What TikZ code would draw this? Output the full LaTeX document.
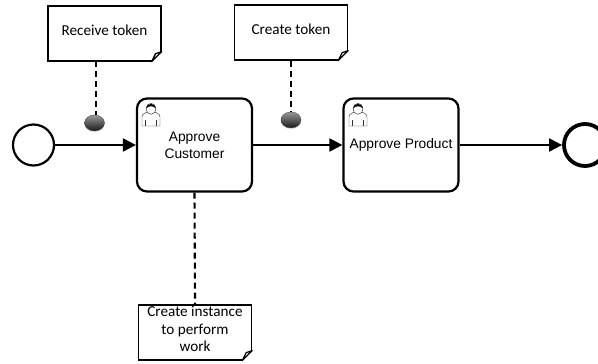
\documentclass[tikz,border=0pt]{standalone}
\usepackage{fontspec}
\setmainfont{Liberation Sans}
\newfontfamily\notefont{Carlito}
\usetikzlibrary{arrows.meta,shadows,shapes.geometric}
\tikzset{
  x=1pt,y=-1pt,
  flow/.style={line width=2.1pt,-{Triangle[length=13pt,width=13pt]}},
  assoc/.style={line width=2.1pt,dash pattern=on 6pt off 4pt},
  taskbox/.style={draw,line width=2.2pt,rounded corners=10pt,minimum width=115pt,minimum height=93pt,inner sep=0pt,align=center,font=\fontsize{13.8pt}{17pt}\selectfont,fill=white},
  notebox/.style={draw,line width=1.3pt,minimum width=113pt,minimum height=55pt,inner sep=0pt},
  notetext/.style={align=center,font=\notefont\fontsize{15.2pt}{17.8pt}\selectfont,inner sep=0pt},
  ball/.style={ellipse,minimum width=20pt,minimum height=16pt,inner sep=0pt,draw=black!70,line width=.4pt,top color=black!40,bottom color=black!90,drop shadow={shadow xshift=0pt,shadow yshift=-1.2pt,opacity=.2}},
}
\newcommand{\dogear}[1]{%
  \fill[white] ([xshift=-10pt,yshift=-.8pt]#1.south east) -- ([yshift=10pt,xshift=.8pt]#1.south east) -- ([xshift=.8pt,yshift=-.8pt]#1.south east) -- cycle;
  \draw[line width=1.3pt,line join=round] ([xshift=-10pt]#1.south east) -- ([yshift=10pt]#1.south east) -- ([xshift=-6pt,yshift=8pt]#1.south east) -- cycle;
}
\newcommand{\usericon}[2]{%
  \begin{scope}[shift={(#1,#2)}]
    \draw[line width=.45pt,draw=black!80,fill=white] (1,23) -- (1,14) .. controls (1,10) and (6,10) .. (7,8) -- (13,8) .. controls (14,10) and (19,10) .. (19,14) -- (19,23) -- cycle;
    \draw[line width=.45pt,draw=black!80] (4.5,17) -- (4.5,23) (15.5,17) -- (15.5,23);
    \draw[line width=.45pt,draw=black!80,fill=white] (10,5.8) ellipse [x radius=5pt,y radius=5.5pt];
    \fill (5,5.5) .. controls (5,-0.5) and (15,-0.5) .. (15,5.5) .. controls (12,2.5) and (8,2.5) .. (5,5.5) -- cycle;
  \end{scope}
}
\begin{document}
\begin{tikzpicture}
\useasboundingbox (0,0) rectangle (598,364);
\node[circle,draw,line width=2.2pt,minimum size=41pt,inner sep=0pt] (start) at (33.5,145) {};
\node[taskbox] (t1) at (194.5,145) {Approve\\Customer};
\node[taskbox] (t2) at (401,145) {Approve Product};
\node[circle,draw,line width=3.8pt,minimum size=42pt,inner sep=0pt] (end) at (585,145) {};
\node[notebox] (n1) at (104.5,33.5) {};
\node[notebox] (n2) at (291,32.5) {};
\node[notebox] (n3) at (195,332.5) {};
\node[notetext] (n1t) at (104.5,30) {Receive token};
\node[notetext] (n2t) at (291,29) {Create token};
\node[notetext] (n3t) at (195,329) {Create instance\\to perform\\work};
\dogear{n1}\dogear{n2}\dogear{n3}
\node[ball] (b1) at (94.5,123) {};
\node[ball] (b2) at (291,120) {};
\coordinate (a1) at (96,61);
\coordinate (a2) at (96,115);
\draw[assoc] (a1) -- (a2);
\draw[assoc] (n2.south) -- (b2.north);
\draw[assoc] (t1.south) -- (n3.north);
\draw[flow] (start) -- (t1);
\draw[flow] (t1) -- (t2);
\draw[flow] (t2) -- (end);
\usericon{141}{103}
\usericon{348}{103}
\end{tikzpicture}
\end{document}
